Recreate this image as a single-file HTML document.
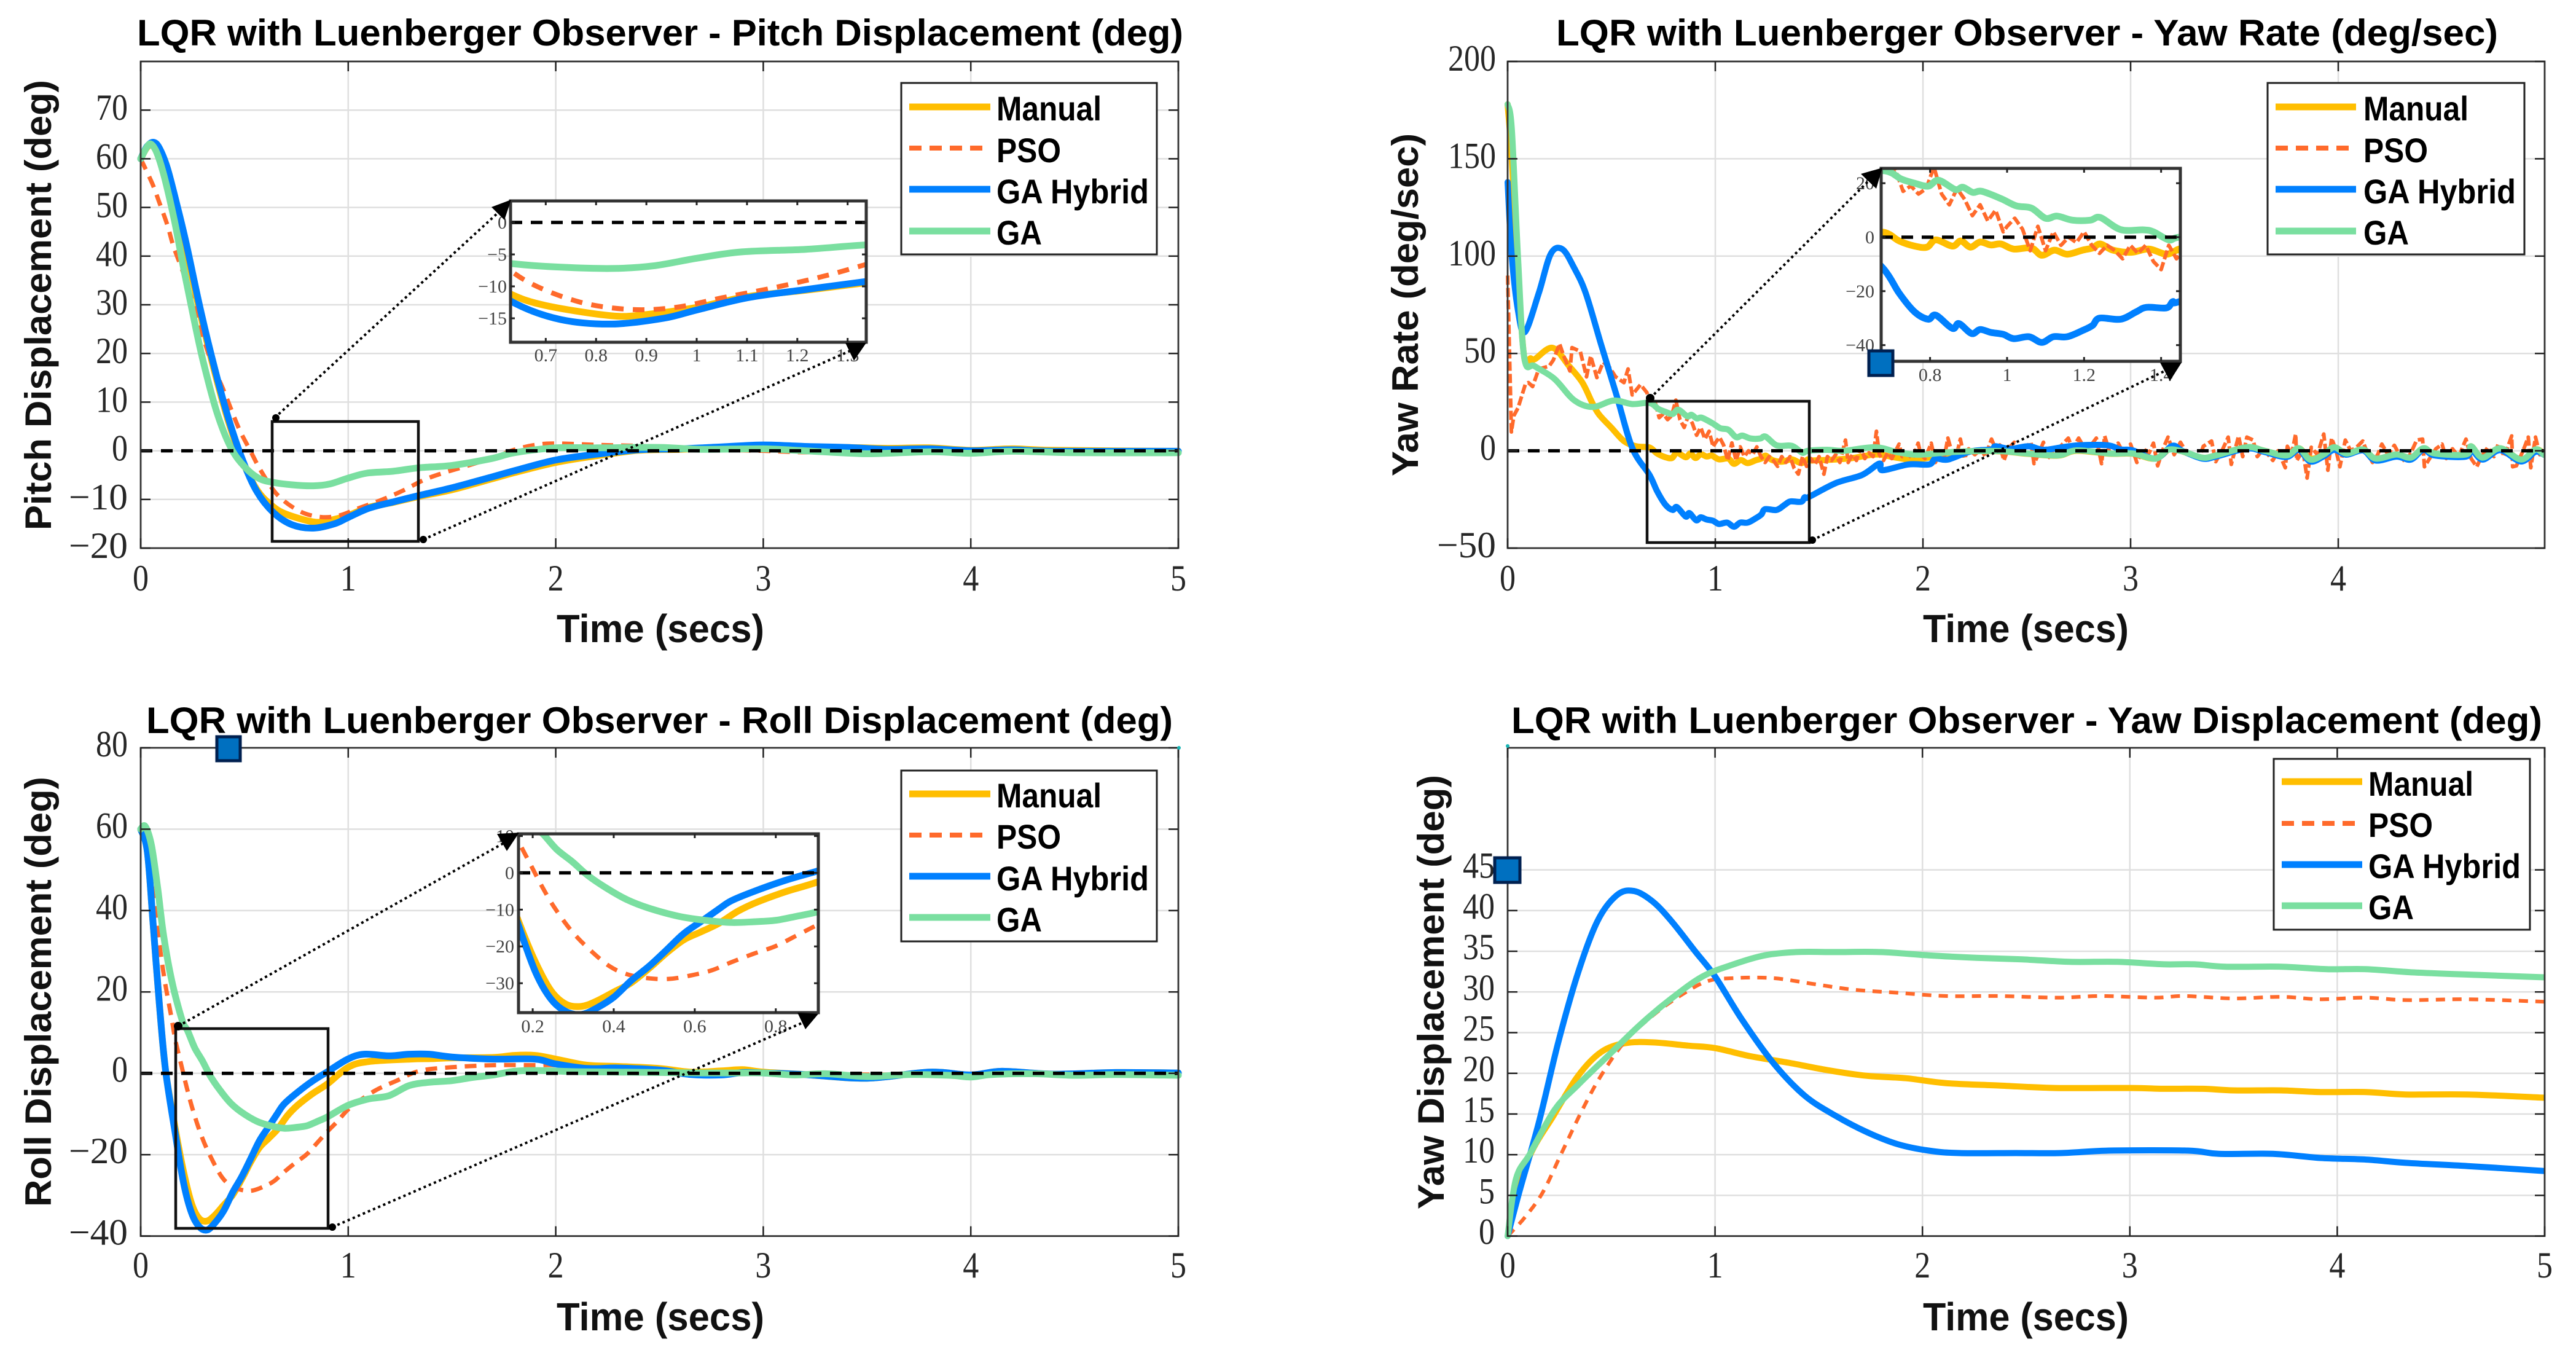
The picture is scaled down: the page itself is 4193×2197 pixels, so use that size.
<!DOCTYPE html>
<html lang="en">
<head>
<meta charset="utf-8">
<title>LQR with Luenberger Observer</title>
<style>
html,body{margin:0;padding:0;background:#fff;}
svg{display:block;}
.title{font:bold 60px "Liberation Sans",sans-serif;fill:#000;}
.xlabel{font:bold 64px "Liberation Sans",sans-serif;fill:#111;}
.ylabel{font:bold 60px "Liberation Sans",sans-serif;fill:#111;}
.legend-text{font:bold 56px "Liberation Sans",sans-serif;fill:#000;}
.tick{font:60px "Liberation Serif",serif;fill:#262626;}
.itick{font:30px "Liberation Serif",serif;fill:#444;}
</style>
</head>
<body>
<svg xmlns="http://www.w3.org/2000/svg" width="4193" height="2197" viewBox="0 0 4193 2197">
<defs>
<clipPath id="clip-p1"><rect x="223" y="94" width="1701" height="804"/></clipPath>
<clipPath id="clip-p2"><rect x="2448" y="94" width="1694" height="804"/></clipPath>
<clipPath id="clip-p3"><rect x="223" y="1210" width="1701" height="808"/></clipPath>
<clipPath id="clip-p4"><rect x="2448" y="1210" width="1694" height="808"/></clipPath>
<clipPath id="clip-i1"><rect x="831" y="327" width="579" height="230"/></clipPath>
<clipPath id="clip-i2"><rect x="3062" y="274" width="487" height="314"/></clipPath>
<clipPath id="clip-i3"><rect x="844" y="1357" width="488" height="291"/></clipPath>
</defs>
<rect width="4193" height="2197" fill="#fff"/>

<!-- PANEL 1 -->
<g>
<g id="p1-grid"></g>
<g id="p1-curves" clip-path="url(#clip-p1)"></g>
<g id="p1-frame"></g>
<rect x="443" y="686" width="238" height="195" fill="none" stroke="#111" stroke-width="4.5"/>
<rect x="831" y="327" width="579" height="230" fill="#fff"/>
<g id="i1-curves" clip-path="url(#clip-i1)"></g>
<g id="i1-frame"></g>
<g>
<line x1="447" y1="680" x2="812" y2="345" stroke="#000" stroke-width="4" stroke-dasharray="4 5"/>
<line x1="689" y1="878" x2="1386" y2="570" stroke="#000" stroke-width="4" stroke-dasharray="4 5"/>
<circle cx="449" cy="680" r="6" fill="#000"/><circle cx="689" cy="878" r="6" fill="#000"/>
<polygon points="832,325 800,337 821,358" fill="#000"/>
<polygon points="1376,558 1410,558 1390,587" fill="#000"/>
</g>
<text class="title" x="223" y="74" textLength="1703" lengthAdjust="spacingAndGlyphs">LQR with Luenberger Observer - Pitch Displacement (deg)</text>
<text class="ylabel" transform="translate(83 863) rotate(-90)" textLength="733" lengthAdjust="spacingAndGlyphs">Pitch Displacement (deg)</text>
<text class="xlabel" x="906" y="1045" textLength="338" lengthAdjust="spacingAndGlyphs">Time (secs)</text>
<g>
<rect x="1467" y="135" width="416" height="279" fill="#fff" stroke="#222" stroke-width="3"/>
<line x1="1480" y1="174" x2="1612" y2="174" stroke="#FFBE00" stroke-width="11"/>
<line x1="1480" y1="241" x2="1600" y2="241" stroke="#FF6A2B" stroke-width="8" stroke-dasharray="20 13"/>
<line x1="1480" y1="308" x2="1612" y2="308" stroke="#0080FF" stroke-width="11"/>
<line x1="1480" y1="376" x2="1612" y2="376" stroke="#7ADFA0" stroke-width="11"/>
<text class="legend-text" x="1622" y="196" textLength="171" lengthAdjust="spacingAndGlyphs">Manual</text>
<text class="legend-text" x="1622" y="264" textLength="105" lengthAdjust="spacingAndGlyphs">PSO</text>
<text class="legend-text" x="1622" y="331" textLength="248" lengthAdjust="spacingAndGlyphs">GA Hybrid</text>
<text class="legend-text" x="1622" y="398" textLength="74" lengthAdjust="spacingAndGlyphs">GA</text>
</g>
</g>

<!-- PANEL 2 -->
<g>
<g id="p2-grid"></g>
<g id="p2-curves" clip-path="url(#clip-p2)"></g>
<g id="p2-frame"></g>
<rect x="2681" y="653" width="264" height="230" fill="none" stroke="#111" stroke-width="4.5"/>
<rect x="3062" y="274" width="487" height="314" fill="#fff"/>
<g id="i2-curves" clip-path="url(#clip-i2)"></g>
<g id="i2-frame"></g>
<g>
<line x1="2686" y1="648" x2="3040" y2="296" stroke="#000" stroke-width="4" stroke-dasharray="4 5"/>
<line x1="2950" y1="879" x2="3525" y2="603" stroke="#000" stroke-width="4" stroke-dasharray="4 5"/>
<circle cx="2686" cy="648" r="7" fill="#000"/><circle cx="2950" cy="879" r="6" fill="#000"/>
<polygon points="3064,273 3029,283 3054,307" fill="#000"/>
<polygon points="3516,590 3551,590 3532,620" fill="#000"/>
</g>
<rect x="3042" y="571" width="39" height="40" fill="#0070C0" stroke="#002050" stroke-width="5"/>
<text class="title" x="2533" y="74" textLength="1533" lengthAdjust="spacingAndGlyphs">LQR with Luenberger Observer - Yaw Rate (deg/sec)</text>
<text class="ylabel" transform="translate(2308 775) rotate(-90)" textLength="558" lengthAdjust="spacingAndGlyphs">Yaw Rate (deg/sec)</text>
<text class="xlabel" x="3130" y="1045" textLength="335" lengthAdjust="spacingAndGlyphs">Time (secs)</text>
<g>
<rect x="3691" y="135" width="418" height="279" fill="#fff" stroke="#222" stroke-width="3"/>
<line x1="3704" y1="174" x2="3835" y2="174" stroke="#FFBE00" stroke-width="11"/>
<line x1="3704" y1="241" x2="3824" y2="241" stroke="#FF6A2B" stroke-width="8" stroke-dasharray="20 13"/>
<line x1="3704" y1="308" x2="3835" y2="308" stroke="#0080FF" stroke-width="11"/>
<line x1="3704" y1="376" x2="3835" y2="376" stroke="#7ADFA0" stroke-width="11"/>
<text class="legend-text" x="3847" y="196" textLength="171" lengthAdjust="spacingAndGlyphs">Manual</text>
<text class="legend-text" x="3847" y="264" textLength="105" lengthAdjust="spacingAndGlyphs">PSO</text>
<text class="legend-text" x="3847" y="331" textLength="248" lengthAdjust="spacingAndGlyphs">GA Hybrid</text>
<text class="legend-text" x="3847" y="398" textLength="74" lengthAdjust="spacingAndGlyphs">GA</text>
</g>
</g>

<!-- PANEL 3 -->
<g>
<g id="p3-grid"></g>
<g id="p3-curves" clip-path="url(#clip-p3)"></g>
<g id="p3-frame"></g>
<rect x="286" y="1674" width="248" height="325" fill="none" stroke="#111" stroke-width="4.5"/>
<rect x="844" y="1357" width="488" height="291" fill="#fff"/>
<g id="i3-curves" clip-path="url(#clip-i3)"></g>
<g id="i3-frame"></g>
<g>
<line x1="290" y1="1670" x2="820" y2="1372" stroke="#000" stroke-width="4" stroke-dasharray="4 5"/>
<line x1="541" y1="1997" x2="1305" y2="1665" stroke="#000" stroke-width="4" stroke-dasharray="4 5"/>
<circle cx="290" cy="1670" r="7" fill="#000"/><circle cx="541" cy="1997" r="6" fill="#000"/>
<polygon points="809,1357 845,1355 825,1385" fill="#000"/>
<polygon points="1298,1648 1332,1650 1311,1675" fill="#000"/>
</g>
<rect x="353" y="1199" width="38" height="39" fill="#0070C0" stroke="#002050" stroke-width="5"/>
<circle cx="1919" cy="1217" r="3" fill="#19b5b5"/>
<text class="title" x="238" y="1193" textLength="1671" lengthAdjust="spacingAndGlyphs">LQR with Luenberger Observer - Roll Displacement (deg)</text>
<text class="ylabel" transform="translate(83 1964) rotate(-90)" textLength="700" lengthAdjust="spacingAndGlyphs">Roll Displacement (deg)</text>
<text class="xlabel" x="906" y="2165" textLength="338" lengthAdjust="spacingAndGlyphs">Time (secs)</text>
<g>
<rect x="1467" y="1254" width="416" height="278" fill="#fff" stroke="#222" stroke-width="3"/>
<line x1="1480" y1="1292" x2="1612" y2="1292" stroke="#FFBE00" stroke-width="11"/>
<line x1="1480" y1="1359" x2="1600" y2="1359" stroke="#FF6A2B" stroke-width="8" stroke-dasharray="20 13"/>
<line x1="1480" y1="1426" x2="1612" y2="1426" stroke="#0080FF" stroke-width="11"/>
<line x1="1480" y1="1493" x2="1612" y2="1493" stroke="#7ADFA0" stroke-width="11"/>
<text class="legend-text" x="1622" y="1314" textLength="171" lengthAdjust="spacingAndGlyphs">Manual</text>
<text class="legend-text" x="1622" y="1381" textLength="105" lengthAdjust="spacingAndGlyphs">PSO</text>
<text class="legend-text" x="1622" y="1449" textLength="248" lengthAdjust="spacingAndGlyphs">GA Hybrid</text>
<text class="legend-text" x="1622" y="1516" textLength="74" lengthAdjust="spacingAndGlyphs">GA</text>
</g>
</g>

<!-- PANEL 4 -->
<g>
<g id="p4-grid"></g>
<g id="p4-curves" clip-path="url(#clip-p4)"></g>
<g id="p4-frame"></g>
<rect x="2433" y="1396" width="41" height="40" fill="#0070C0" stroke="#002050" stroke-width="5"/>
<circle cx="2454" cy="1214" r="3" fill="#19b5b5"/>
<text class="title" x="2460" y="1193" textLength="1678" lengthAdjust="spacingAndGlyphs">LQR with Luenberger Observer - Yaw Displacement (deg)</text>
<text class="ylabel" transform="translate(2350 1968) rotate(-90)" textLength="707" lengthAdjust="spacingAndGlyphs">Yaw Displacement (deg)</text>
<text class="xlabel" x="3130" y="2165" textLength="335" lengthAdjust="spacingAndGlyphs">Time (secs)</text>
<g>
<rect x="3701" y="1235" width="417" height="278" fill="#fff" stroke="#222" stroke-width="3"/>
<line x1="3714" y1="1272" x2="3845" y2="1272" stroke="#FFBE00" stroke-width="11"/>
<line x1="3714" y1="1340" x2="3834" y2="1340" stroke="#FF6A2B" stroke-width="8" stroke-dasharray="20 13"/>
<line x1="3714" y1="1407" x2="3845" y2="1407" stroke="#0080FF" stroke-width="11"/>
<line x1="3714" y1="1474" x2="3845" y2="1474" stroke="#7ADFA0" stroke-width="11"/>
<text class="legend-text" x="3855" y="1295" textLength="171" lengthAdjust="spacingAndGlyphs">Manual</text>
<text class="legend-text" x="3855" y="1362" textLength="105" lengthAdjust="spacingAndGlyphs">PSO</text>
<text class="legend-text" x="3855" y="1429" textLength="248" lengthAdjust="spacingAndGlyphs">GA Hybrid</text>
<text class="legend-text" x="3855" y="1496" textLength="74" lengthAdjust="spacingAndGlyphs">GA</text>
</g>
</g>
</svg>

<script>
/* ---------- Pitch displacement ---------- */
const pitchManualT=[0,.03,.06,.09,.129,.172,.217,.285,.353,.421,.49,.56,.63,.7,.83,.9,1,1.1,1.217,1.34,1.5,1.69,1.8,2,2.2,2.4,2.6,2.8,3,3.2,3.4,3.6,3.8,4,4.2,4.4,5];
const pitchManualV=[60,62.3,63,62,58,50.5,42,28.6,16.8,6.3,-2,-8,-11.2,-13,-14.6,-14.4,-13.3,-11.6,-10.6,-9.4,-8,-5.8,-4.5,-2.4,-1,.1,.3,.6,1,.8,.7,.5,.6,.1,.4,.1,-.1];
const pitchPsoT=[0,.056,.09,.13,.158,.21,.26,.33,.4,.47,.526,.582,.66,.765,.866,.957,1.05,1.16,1.263,1.364,1.455,1.557,1.69,1.8,1.9,2,2.2,2.4,2.6,2.8,3,3.2,3.5,4,5];
const pitchPsoV=[60,54.9,51,46.2,42,36,29.2,19.5,12.4,4.9,.2,-4.3,-9.1,-12.4,-13.6,-13.3,-11.8,-10.1,-8.2,-6,-4.6,-3.3,-1.5,.2,1.2,1.5,1.2,1,.6,.2,0,-.3,-.2,-.1,-.1];
const pitchHybridT=[0,.03,.061,.09,.129,.175,.22,.288,.356,.424,.492,.56,.64,.73,.832,.934,1,1.1,1.217,1.34,1.5,1.69,1.8,2,2.2,2.4,2.6,2.8,3,3.2,3.4,3.6,3.8,4,4.2,4.4,5];
const pitchHybridV=[60,62.5,63.4,62.2,58,50.5,42.5,29,17,6.5,-2,-8.4,-12.7,-15.2,-15.9,-15,-13.7,-11.8,-10.5,-9.2,-7.6,-5.4,-4.1,-1.9,-.7,.2,.4,.8,1.2,.9,.7,.3,.4,0,.2,-.1,-.1];
const pitchGaT=[0,.03,.05,.08,.118,.163,.209,.254,.3,.367,.435,.503,.571,.64,.73,.832,.913,1,1.09,1.217,1.34,1.5,1.69,1.8,2,2.2,2.5,2.7,3,3.2,3.5,3.8,4,4.2,4.5,5];
const pitchGaV=[60,62.4,63,61,55.6,47.2,37,27.6,18.6,7.9,.6,-3.4,-5.7,-6.5,-7,-7.2,-6.8,-5.6,-4.6,-4.2,-3.5,-3,-1.6,-.4,.6,.6,.7,.3,.4,0,-.6,-.2,-.5,-.1,-.4,-.4];
const pitchXTicks=[0,1,2,3,4,5];
const pitchXLabels=['0','1','2','3','4','5'];
const pitchYTicks=[-20,-10,0,10,20,30,40,50,60,70];
const pitchYLabels=['−20','−10','0','10','20','30','40','50','60','70'];
const pitchInsetXTicks=[.7,.8,.9,1,1.1,1.2,1.3];
const pitchInsetXLabels=['0.7','0.8','0.9','1','1.1','1.2','1.3'];
const pitchInsetYTicks=[0,-5,-10,-15];
const pitchInsetYLabels=['0','−5','−10','−15'];

/* ---------- Yaw rate ---------- */
const rateManualT=[0,.02,.05,.08,.11,.13,.216,.296,.36,.408,.44,.5,.56,.62,.683,.72,.76,.792,.815,.858,.88,.905,.93,.958,.984,1.017,1.063,1.09,1.123,1.156,1.196,1.222,1.242,1.275,1.322,1.368,1.414,1.447,1.465,1.64,1.776,1.87,1.97,2.12,2.23,2.38,2.5,2.65,2.74,2.9,3.01,3.12,3.2,3.25,3.345,3.41,3.56,3.645,3.75,3.81,3.865,3.93,3.98,4.04,4.12,4.18,4.28,4.35,4.41,4.465,4.615,4.64,4.695,4.78,4.88,4.95,4.99];
const rateManualV=[178,150,90,48,47.5,47,52.9,43.5,35,24.5,18.7,11.8,5,2.3,1.7,-1.4,-3.3,-3.7,-1,-3.3,-1.4,-3.7,-1.8,-2.9,-2.5,-4.4,-4,-6.7,-4.8,-6.3,-4.8,-4,-2.5,-4.8,-5.6,-4.4,-6.3,-4.4,-5,-4,-1.9,-3.5,-4.5,-1.5,-.3,-.3,-1.5,-2.5,0,-1.5,-1.5,-4,2,-.3,-3.5,-2.4,1.8,0,-2.4,1.3,-4,-1.9,1.8,-1.4,.7,-4,-1.9,-3.5,1.3,-1.4,-1.9,2.3,-3.5,1.3,-4.5,.7,-1.5];
const ratePsoT=[0,.018,.03,.05,.085,.1,.12,.15,.2,.22,.25,.27,.3,.31,.35,.38,.4,.43,.46,.49,.52,.56,.58,.6,.64,.67,.69,.71,.73,.75,.77,.79,.81,.83,.85,.87,.89,.91,.93,.95,.97,.99,1,1.02,1.04,1.06,1.08,1.1,1.12,1.14,1.16,1.18,1.2,1.22,1.24,1.26,1.28,1.3,1.32,1.34,1.36,1.38,1.4,1.42,1.44,1.46,1.48,1.50,1.523,1.54,1.56,1.58,1.60,1.627,1.64,1.66,1.68,1.70,1.72,1.74,1.76,1.776,1.79,1.81,1.83,1.85,1.885,1.90,1.92,1.95,1.977,1.99,2.01,2.04,2.06,2.08,2.10,2.12,2.14,2.16,2.18,2.20,2.22,2.25,2.28,2.30,2.33,2.35,2.37,2.39,2.41,2.44,2.46,2.49,2.52,2.535,2.56,2.58,2.60,2.63,2.66,2.70,2.72,2.75,2.78,2.81,2.835,2.86,2.875,2.90,2.92,2.94,2.97,3.0,3.03,3.06,3.09,3.11,3.13,3.16,3.18,3.21,3.24,3.27,3.30,3.33,3.35,3.39,3.41,3.44,3.47,3.485,3.52,3.54,3.56,3.59,3.61,3.64,3.685,3.71,3.745,3.755,3.775,3.795,3.8,3.83,3.85,3.87,3.90,3.93,3.95,3.968,3.99,4.008,4.034,4.06,4.09,4.118,4.14,4.165,4.19,4.21,4.24,4.27,4.30,4.325,4.35,4.378,4.406,4.415,4.44,4.47,4.5,4.52,4.55,4.58,4.615,4.64,4.667,4.69,4.72,4.75,4.77,4.80,4.835,4.84,4.858,4.89,4.915,4.927,4.95,4.97,4.99];
const ratePsoV=[90,9.7,18,22,34,35,33,42,43.5,46.6,55,48.7,41,53,51,38,48.7,37.6,45.5,43,38,35,42,28.7,34,30,24,25,17,19,16,18,26,16,12,18,14,8,12,6,10,2,4,7,3,-5,4,-5,2,-3,0,-2,2,-3,-6,-3,-5,-8,-3,-6,-3,-9,-12,-3,-8,-4,-7,-3,-12,-3,-5,-2,-6,5.5,-6,-2,-5,1.8,-4,-1,-3,10,-2,-5,-1,-4,3.4,-3,-1,-4,3.9,-2,-4,3.9,-6,-1,-5,6.5,-1,-3,6,-4,1,-2,1,-3,6,1,3,-5,1,4.4,-1,1,4.4,-6.6,-1,4.4,-4,0,2,6.5,1,6.5,1,3,6.5,-6.6,7.6,-1,-3,3.9,-2,3.4,-6,1,-1,3.9,-7.7,2,7,-2,4.4,-1,-3,-4,2.3,5,-5.6,0,7,-7,7.6,-3,7,5.5,-3,1,-5,0,-8.7,2.3,-2,8.6,-5,0,-14,1.8,-2,8.6,-10,6.5,0,-8.2,5.5,0,2,5,-1,-6,-2,3.4,-2,2.8,-3,-6,-1,5.5,6,-8.2,-4,1,3.4,-4,1,-3,6,-4,-8.2,-3,1.8,-3,3.4,-3,7.6,-8.2,-7.7,0,7,-8.7,7,-2,0];
const rateHybridT=[0,.02,.05,.083,.15,.207,.263,.32,.376,.45,.526,.6,.683,.72,.76,.795,.815,.858,.875,.908,.93,.958,.99,1.017,1.057,1.09,1.12,1.156,1.196,1.222,1.24,1.295,1.335,1.362,1.414,1.43,1.447,1.58,1.707,1.79,1.805,1.93,2.03,2.06,2.12,2.23,2.33,2.35,2.42,2.51,2.58,2.67,2.75,2.89,2.95,3.01,3.12,3.2,3.25,3.345,3.41,3.56,3.645,3.75,3.81,3.865,3.93,3.98,4.04,4.12,4.18,4.28,4.35,4.41,4.465,4.615,4.64,4.695,4.78,4.88,4.95,4.99];
const rateHybridV=[138,100,72,61,81,101,103.6,94,81,54.6,28,1.5,-12.4,-20.8,-27.7,-30.4,-28.9,-33.8,-32,-35.7,-34.2,-35.3,-36,-37.6,-36.9,-39,-36.9,-36.9,-34.6,-32.7,-30,-30.4,-27.7,-26,-26.2,-23.9,-23.9,-16.6,-12.4,-6.6,-10,-7,-7,-4,-4.5,-.3,.7,2.3,1,2.3,.5,1.8,2.8,2.8,.7,.2,-4,2.5,-.1,-4,-3,1.2,-.6,-3.2,.5,-5.5,-2.8,.5,-2,.2,-5,-3,-4.5,.5,-2.4,-3,.8,-4.5,.3,-5.5,-.5,-2];
const rateGaT=[0,.02,.05,.08,.13,.225,.32,.41,.51,.6,.683,.726,.76,.795,.822,.865,.885,.911,.934,.984,1.024,1.063,1.1,1.13,1.17,1.216,1.242,1.295,1.355,1.38,1.42,1.447,1.54,1.62,1.77,1.88,1.98,2.12,2.23,2.38,2.5,2.65,2.74,2.9,3.01,3.12,3.18,3.25,3.345,3.41,3.56,3.645,3.75,3.81,3.865,3.93,3.98,4.04,4.12,4.18,4.28,4.35,4.41,4.465,4.615,4.64,4.695,4.78,4.88,4.95,4.99];
const rateGaV=[178,165,99,48,43.5,37,26,22.5,25.8,24,24.6,21.5,20,18.9,21.1,17.7,18.5,16.6,17,14.3,11.6,10.8,7,7.8,6.3,6.3,7.3,2.8,2.7,2,-1,0,.5,0,1.8,-.8,-2,-.8,-.2,-.2,-1.4,-2.4,.2,-1.4,-1.4,-4,.5,-.3,-3.5,-2.4,1.8,0,-2.4,1.3,-4.5,-1.9,1.8,-1.4,.7,-4,-1.9,-3.5,1.3,-1.4,-1.9,2.3,-3.5,1.3,-4.5,.7,-2];
const rateXTicks=[0,1,2,3,4];
const rateXLabels=['0','1','2','3','4'];
const rateYTicks=[-50,0,50,100,150,200];
const rateYLabels=['−50','0','50','100','150','200'];
const rateInsetXTicks=[.8,1,1.2,1.4];
const rateInsetXLabels=['0.8','1','1.2','1.4'];
const rateInsetYTicks=[20,0,-20,-40];
const rateInsetYLabels=['20','0','−20','−40'];

/* ---------- Roll displacement ---------- */
const rollManualT=[0,.032,.06,.09,.12,.167,.207,.245,.282,.32,.357,.4,.443,.487,.53,.573,.616,.66,.707,.755,.825,.9,1,1.1,1.3,1.4,1.5,1.7,1.8,1.9,2,2.15,2.3,2.5,2.65,2.8,2.9,3,3.2,3.5,3.8,4,4.15,4.4,4.7,5];
const rollManualV=[60,54.5,36.6,17,.7,-13.7,-24.3,-32,-35.7,-36.3,-34.9,-32.4,-29.9,-26,-21.8,-18.2,-16,-13.7,-10.4,-7.9,-5.1,-2.6,1.5,2.9,3.5,3.6,3.8,3.9,4.4,4.4,3.5,2,1.7,1.2,.3,.6,.9,.3,-.3,-1.2,.3,-.4,.5,-.2,.2,.1];
const rollPsoT=[0,.03,.086,.116,.15,.167,.194,.223,.253,.293,.336,.39,.437,.49,.54,.594,.642,.69,.745,.8,.852,.9,.95,1.01,1.128,1.234,1.344,1.5,1.7,1.9,2,2.2,2.4,2.6,3,3.5,4,5];
const rollPsoV=[60,55,33.3,22.7,13.2,8.2,2.4,-3.7,-9.3,-15.4,-20.4,-25.4,-27.7,-28.7,-28.8,-27.8,-26.5,-24.3,-22,-19.9,-17,-14.3,-11.7,-8.4,-4.3,-1.8,.6,1.5,2,2,2,1.3,.8,.2,0,-.3,-.2,0];
const rollHybridT=[0,.032,.06,.09,.12,.167,.207,.245,.282,.32,.357,.4,.443,.487,.53,.573,.616,.66,.69,.745,.825,.9,.998,1.077,1.196,1.294,1.39,1.5,1.7,1.9,2,2.15,2.3,2.5,2.65,2.8,2.9,3,3.2,3.5,3.8,4,4.15,4.4,4.7,5];
const rollHybridV=[60,54.5,36.6,17,.7,-14.9,-27,-34.3,-37.7,-38.5,-36.8,-33.8,-29.3,-25.4,-21,-16.5,-13.2,-9.8,-7.6,-5.1,-2,.4,3.5,4.7,4.3,4.7,4.7,4,3.5,3.5,2.3,1.2,1.3,.8,-.3,-.4,.2,.1,-.3,-1.2,.3,-.4,.5,-.2,.2,.1];
const rollGaT=[0,.022,.052,.082,.11,.15,.2,.226,.26,.298,.336,.38,.433,.487,.56,.626,.69,.745,.8,.852,.9,.998,1.098,1.196,1.294,1.39,1.5,1.6,1.7,1.8,1.9,2.1,2.3,2.5,2.7,2.9,3,3.15,3.3,3.5,3.7,3.9,4,4.1,4.3,4.5,4.7,5];
const rollGaV=[60,60.7,56,45.5,34,22.7,13,10.5,6.3,3,-.7,-4,-7.3,-9.6,-11.8,-12.9,-13.5,-13.3,-12.9,-11.8,-10.7,-7.9,-6.3,-5.5,-3,-2.2,-1.8,-1,-.4,.5,.7,.4,.3,.2,.1,.1,.1,-.4,-.1,-.8,-.3,-.5,-.9,-.3,-.1,-.5,-.3,-.5];
const rollXTicks=[0,1,2,3,4,5];
const rollXLabels=['0','1','2','3','4','5'];
const rollYTicks=[-40,-20,0,20,40,60,80];
const rollYLabels=['−40','−20','0','20','40','60','80'];
const rollInsetXTicks=[.2,.4,.6,.8];
const rollInsetXLabels=['0.2','0.4','0.6','0.8'];
const rollInsetYTicks=[10,0,-10,-20,-30];
const rollInsetYLabels=['10','0','−10','−20','−30'];

/* ---------- Yaw displacement ---------- */
const yawManualT=[0,.094,.226,.34,.45,.565,.7,.87,1,1.17,1.355,1.54,1.73,1.92,2.11,2.37,2.64,3.01,3.16,3.35,3.5,3.73,3.92,4.14,4.33,4.63,5];
const yawManualV=[0,9.1,15,19.7,22.6,23.7,23.8,23.4,23.1,22.1,21.3,20.4,19.7,19.4,18.8,18.5,18.2,18.2,18.1,18.1,17.9,17.9,17.7,17.7,17.4,17.4,17];
const yawPsoT=[0,.083,.17,.26,.36,.45,.565,.7,.83,.96,1.09,1.28,1.47,1.66,1.88,2.11,2.37,2.65,2.86,3.12,3.26,3.5,3.73,3.92,4.14,4.33,4.63,5];
const yawPsoV=[0,2.3,5.4,10.2,15.5,19.7,23.9,27.1,29.5,31.3,31.7,31.7,31,30.3,29.9,29.5,29.5,29.3,29.5,29.3,29.5,29.2,29.4,29.1,29.3,29,29.1,28.8];
const yawHybridT=[0,.056,.15,.245,.34,.433,.527,.61,.7,.79,.904,1,1.13,1.28,1.43,1.58,1.73,1.88,2.03,2.18,2.45,2.67,2.9,3.28,3.43,3.69,3.92,4.14,4.33,4.63,5];
const yawHybridV=[0,5.4,13.9,23.9,32.4,38.7,41.9,42.4,41.1,38.7,35,31.9,26.6,21.3,17.3,14.8,12.8,11.3,10.5,10.2,10.2,10.2,10.5,10.5,10.1,10.1,9.6,9.4,9,8.6,8];
const yawGaT=[0,.04,.11,.226,.34,.49,.64,.79,.94,1.09,1.24,1.39,1.58,1.8,2.03,2.26,2.48,2.71,2.94,3.16,3.31,3.46,3.73,3.95,4.14,4.37,4.67,5];
const yawGaV=[0,7,10.2,15.5,18.6,22.3,26,29.2,31.9,33.4,34.5,34.9,34.9,34.9,34.5,34.2,34,33.7,33.7,33.4,33.4,33.1,33.1,32.8,32.8,32.4,32.1,31.8];
const yawXTicks=[0,1,2,3,4,5];
const yawXLabels=['0','1','2','3','4','5'];
const yawYTicks=[0,5,10,15,20,25,30,35,40,45];
const yawYLabels=['0','5','10','15','20','25','30','35','40','45'];

/* ---------- drawing helpers ---------- */
const NS='http://www.w3.org/2000/svg';
const MANUAL='#FFBE00',PSO='#FF6A2B',HYBRID='#0080FF',GA='#7ADFA0';
function scale(d0,d1,r0,r1){return v=>r0+(v-d0)/(d1-d0)*(r1-r0);}
function make(parent,tag,attrs,name){
  const el=document.createElementNS(NS,tag);
  for(const k in attrs)el.setAttribute(k,attrs[k]);
  
  
  parent.appendChild(el);
  return el;
}
function layer(id){return document.getElementById(id);}
function pathFrom(pts,smooth){
  let d='M'+pts[0][0].toFixed(1)+' '+pts[0][1].toFixed(1);
  for(let i=0;i<pts.length-1;i++){
    const p0=pts[Math.max(i-1,0)],p1=pts[i],p2=pts[i+1],p3=pts[Math.min(i+2,pts.length-1)];
    if(smooth){
      const c1x=p1[0]+(p2[0]-p0[0])/6,c1y=p1[1]+(p2[1]-p0[1])/6,c2x=p2[0]-(p3[0]-p1[0])/6,c2y=p2[1]-(p3[1]-p1[1])/6;
      d+='C'+c1x.toFixed(1)+' '+c1y.toFixed(1)+' '+c2x.toFixed(1)+' '+c2y.toFixed(1)+' '+p2[0].toFixed(1)+' '+p2[1].toFixed(1);
    }else{
      d+='L'+p2[0].toFixed(1)+' '+p2[1].toFixed(1);
    }
  }
  return d;
}
function drawSeries(parent,x,y,ts,vs,color,width,dash,smooth,name){
  const pts=ts.map((t,i)=>[x(t),y(vs[i])]);
  const attrs={d:pathFrom(pts,smooth),fill:'none',stroke:color,'stroke-width':width,'stroke-linejoin':'round','stroke-linecap':dash?'butt':'round'};
  if(dash)attrs['stroke-dasharray']=dash;
  make(parent,'path',attrs,name);
}
function drawZero(parent,x0,x1,y,name){
  make(parent,'line',{x1:x0,x2:x1,y1:y(0),y2:y(0),stroke:'#000','stroke-width':5.5,'stroke-dasharray':'19 14'},name);
}
function labelLength(s,opt){
  let w=0;
  for(const c of s)w+=(c==='−')?opt.minusW:opt.digitW;
  return w;
}
function drawAxes(grid,frame,box,x,y,xTicks,xLabels,yTicks,yLabels,opt){
  const len=opt.tickLen;
  const fit=(el,s)=>{ if(opt.digitW){ el.setAttribute('textLength',labelLength(s,opt)); el.setAttribute('lengthAdjust','spacingAndGlyphs'); } };
  if(grid){
    xTicks.forEach(t=>{ if(t>box.xMin&&t<box.xMax) make(grid,'line',{x1:x(t),x2:x(t),y1:box.top,y2:box.bottom,stroke:'#dfdfdf','stroke-width':2.5},'x-gridline'); });
    yTicks.forEach(v=>{ make(grid,'line',{x1:box.left,x2:box.right,y1:y(v),y2:y(v),stroke:'#dfdfdf','stroke-width':2.5},'y-gridline'); });
  }
  make(frame,'rect',{x:box.left,y:box.top,width:box.right-box.left,height:box.bottom-box.top,fill:'none',stroke:opt.frameColor,'stroke-width':opt.frameWidth},'axes-frame');
  xTicks.forEach((t,i)=>{
    const px=x(t);
    make(frame,'line',{x1:px,x2:px,y1:box.bottom,y2:box.bottom-len,stroke:'#222','stroke-width':opt.tickWidth},'x-tick');
    make(frame,'line',{x1:px,x2:px,y1:box.top,y2:box.top+len,stroke:'#222','stroke-width':opt.tickWidth},'x-tick-top');
    const lab=make(frame,'text',{x:px,y:opt.xLabelY,'text-anchor':'middle','class':opt.labelClass},'x-tick-label');
    lab.textContent=xLabels[i];
    fit(lab,xLabels[i]);
  });
  yTicks.forEach((v,i)=>{
    const py=y(v);
    make(frame,'line',{x1:box.left,x2:box.left+len,y1:py,y2:py,stroke:'#222','stroke-width':opt.tickWidth},'y-tick');
    make(frame,'line',{x1:box.right,x2:box.right-len,y1:py,y2:py,stroke:'#222','stroke-width':opt.tickWidth},'y-tick-right');
    const lab=make(frame,'text',{x:opt.yLabelX,y:py+opt.yLabelDy,'text-anchor':'end','class':opt.labelClass},'y-tick-label');
    lab.textContent=yLabels[i];
    fit(lab,yLabels[i]);
  });
}
function drawPanel(id,box,xlim,ylim,xT,xL,yT,yL,series,opt){
  const x=scale(xlim[0],xlim[1],box.left,box.right),y=scale(ylim[0],ylim[1],box.bottom,box.top);
  box.xMin=xlim[0];box.xMax=xlim[1];
  drawAxes(layer(id+'-grid'),layer(id+'-frame'),box,x,y,xT,xL,yT,yL,opt);
  const c=layer(id+'-curves');
  series.forEach(s=>drawSeries(c,x,y,s.t,s.v,s.color,s.width,s.dash,s.smooth,s.name));
  if(opt.zero)drawZero(c,box.left,box.right,y,'zero-reference-line');
}
function drawInset(id,box,xlim,ylim,xT,xL,yT,yL,series,opt,psoWidth,psoDash){
  const x=scale(xlim[0],xlim[1],box.left,box.right),y=scale(ylim[0],ylim[1],box.bottom,box.top);
  box.xMin=xlim[0];box.xMax=xlim[1];
  const c=layer(id+'-curves');
  series.forEach(s=>drawSeries(c,x,y,s.t,s.v,s.color,s.dash?psoWidth:11,s.dash?psoDash:null,s.smooth,'inset-'+s.name));
  drawZero(c,box.left,box.right,y,'inset-zero-line');
  drawAxes(null,layer(id+'-frame'),box,x,y,xT,xL,yT,yL,opt);
}

/* ---------- series sets ---------- */
function S(t,v,color,name,smooth,width,dash){return {t:t,v:v,color:color,name:name,smooth:smooth,width:width,dash:dash};}
const pitchSeries=[S(pitchManualT,pitchManualV,MANUAL,'manual-line',true,11),S(pitchPsoT,pitchPsoV,PSO,'pso-line',true,7,'19 13'),S(pitchHybridT,pitchHybridV,HYBRID,'ga-hybrid-line',true,11),S(pitchGaT,pitchGaV,GA,'ga-line',true,11)];
const rateSeries=[S(rateManualT,rateManualV,MANUAL,'manual-line',true,10),S(ratePsoT,ratePsoV,PSO,'pso-line',false,6,'15 5'),S(rateHybridT,rateHybridV,HYBRID,'ga-hybrid-line',true,10),S(rateGaT,rateGaV,GA,'ga-line',true,10)];
const rollSeries=[S(rollManualT,rollManualV,MANUAL,'manual-line',true,11),S(rollPsoT,rollPsoV,PSO,'pso-line',true,7,'19 13'),S(rollHybridT,rollHybridV,HYBRID,'ga-hybrid-line',true,11),S(rollGaT,rollGaV,GA,'ga-line',true,11)];
const yawSeries=[S(yawManualT,yawManualV,MANUAL,'manual-line',true,10),S(yawPsoT,yawPsoV,PSO,'pso-line',true,6,'15 12'),S(yawHybridT,yawHybridV,HYBRID,'ga-hybrid-line',true,10),S(yawGaT,yawGaV,GA,'ga-line',true,10)];

const mainOpt=(xy,yx,dy)=>({tickLen:16,tickWidth:2.5,frameColor:'#333',frameWidth:2.8,labelClass:'tick',xLabelY:xy,yLabelX:yx,yLabelDy:dy,zero:true,digitW:26,minusW:44});
const insetOpt=(xy,yx)=>({tickLen:7,tickWidth:3,frameColor:'#333',frameWidth:5,labelClass:'itick',xLabelY:xy,yLabelX:yx,yLabelDy:10});

drawPanel('p1',{left:229,right:1918,top:100,bottom:892},[0,5],[-20,80],pitchXTicks,pitchXLabels,pitchYTicks,pitchYLabels,pitchSeries,mainOpt(961,208,16));
drawPanel('p2',{left:2454,right:4142,top:100,bottom:892},[0,4.994],[-50,200],rateXTicks,rateXLabels,rateYTicks,rateYLabels,rateSeries,mainOpt(961,2435,15));
drawPanel('p3',{left:229,right:1918,top:1217,bottom:2011.6},[0,5],[-40,80],rollXTicks,rollXLabels,rollYTicks,rollYLabels,rollSeries,mainOpt(2079,208,14));
const yawOpt=mainOpt(2079,2433,13);yawOpt.zero=false;
drawPanel('p4',{left:2454,right:4142,top:1217,bottom:2011.6},[0,5],[0,60],yawXTicks,yawXLabels,yawYTicks,yawYLabels,yawSeries,yawOpt);

drawInset('i1',{left:831,right:1410,top:327,bottom:557},[.63,1.337],[-18.75,3.37],pitchInsetXTicks,pitchInsetXLabels,pitchInsetYTicks,pitchInsetYLabels,pitchSeries,insetOpt(588,825),8,'19 15');
drawInset('i2',{left:3062,right:3549,top:274,bottom:588},[.673,1.45],[-46,25.5],rateInsetXTicks,rateInsetXLabels,rateInsetYTicks,rateInsetYLabels,rateSeries,insetOpt(620,3051),6,'15 5');
drawInset('i3',{left:844,right:1332,top:1357,bottom:1648},[.165,.905],[-38,10.6],rollInsetXTicks,rollInsetXLabels,rollInsetYTicks,rollInsetYLabels,rollSeries,insetOpt(1680,837),7,'19 15');
</script>
</body>
</html>
